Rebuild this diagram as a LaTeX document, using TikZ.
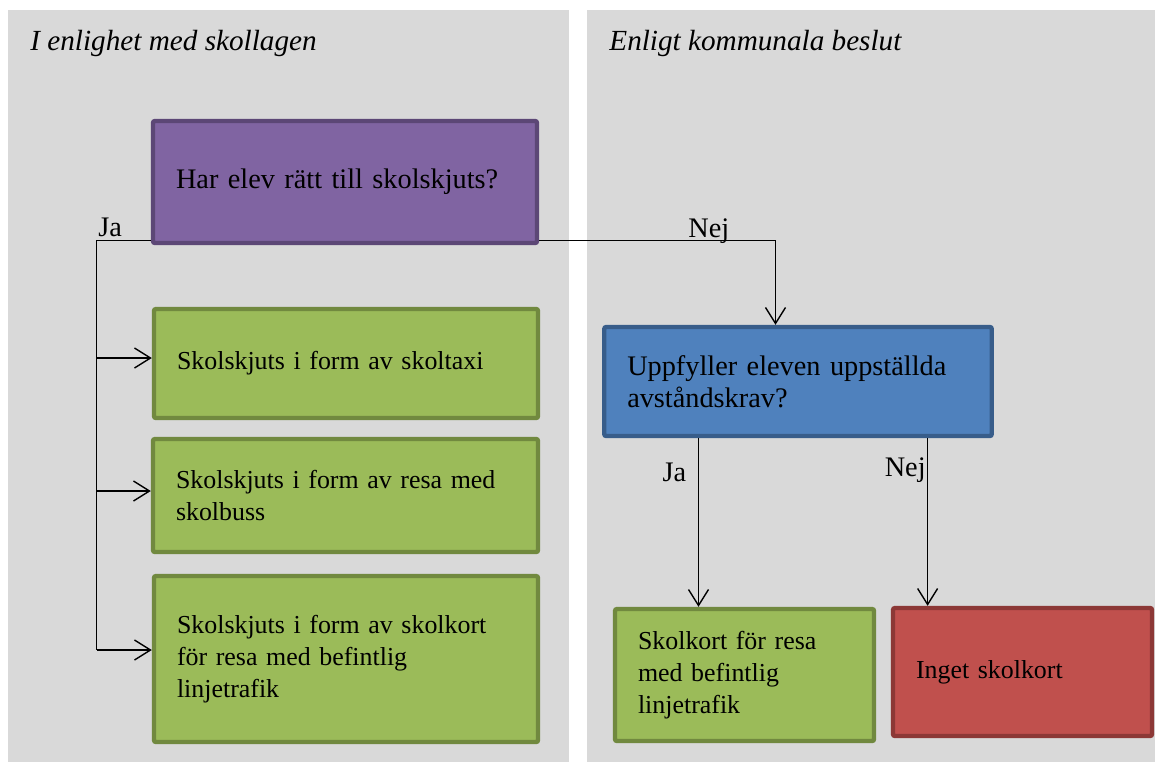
\documentclass[tikz,border=0pt]{standalone}
\usepackage{fontspec}
\setmainfont{Liberation Serif}
\usetikzlibrary{arrows.meta}

\definecolor{panel}{HTML}{D9D9D9}
\definecolor{lila}{HTML}{8064A2}
\definecolor{lilakant}{HTML}{5C4776}
\definecolor{bla}{HTML}{4F81BD}
\definecolor{blakant}{HTML}{385D8A}
\definecolor{gron}{HTML}{9BBB59}
\definecolor{gronkant}{HTML}{71893F}
\definecolor{rod}{HTML}{C0504D}
\definecolor{rodkant}{HTML}{8C3836}

\begin{document}
\begin{tikzpicture}[x=0.5pt,y=-0.5pt,
  ruta/.style={line width=2.2pt, rounded corners=1pt, align=left,
    inner xsep=11.5pt, inner ysep=0pt},
  stor/.style={font=\fontsize{14.15pt}{16pt}\selectfont},
  liten/.style={font=\fontsize{12.95pt}{16pt}\selectfont},
  lbl/.style={stor, inner sep=0pt},
  linje/.style={line width=0.7pt},
  pil/.style={linje, -{Straight Barb[length=8pt,width=10pt]}}]
\useasboundingbox (0,0) rectangle (1155,762);
\fill[panel] (7.5,10) rectangle (569,762);
\fill[panel] (586.5,10) rectangle (1155,762);

\node[lbl, anchor=base west, font=\fontsize{14.6pt}{16pt}\selectfont\itshape]
  (rubrik1) at (30,50) {I enlighet med skollagen};
\node[lbl, anchor=base west, font=\fontsize{14.6pt}{16pt}\selectfont\itshape]
  (rubrik2) at (609,50) {Enligt kommunala beslut};

% vänster sida
\node[ruta, stor, draw=lilakant, fill=lila, minimum width=192pt,
  minimum height=61pt, text width=169pt] (fraga) at (345,182)
  {Har elev rätt till skolskjuts?};
\node[ruta, liten, draw=gronkant, fill=gron, minimum width=192pt,
  minimum height=54.5pt, text width=169pt] (taxi) at (346,363.5)
  {Skolskjuts i form av skoltaxi};
\node[ruta, liten, draw=gronkant, fill=gron, minimum width=192.5pt,
  minimum height=56.5pt, text width=169.5pt] (buss) at (345.5,495.5)
  {Skolskjuts i form av resa med\\skolbuss};
\node[ruta, liten, draw=gronkant, fill=gron, minimum width=192pt,
  minimum height=83pt, text width=169pt] (kort) at (346,659)
  {Skolskjuts i form av skolkort\\för resa med befintlig\\linjetrafik};

% höger sida
\node[ruta, stor, draw=blakant, fill=bla, minimum width=193.75pt,
  minimum height=54.5pt, text width=170.75pt] (avstand) at (798,381.5)
  {Uppfyller eleven uppställda\\avståndskrav?};
\node[ruta, liten, draw=gronkant, fill=gron, minimum width=129.5pt,
  minimum height=66pt, text width=106.5pt] (jakort) at (744.5,675)
  {Skolkort för resa\\med befintlig\\linjetrafik};
\node[ruta, liten, draw=rodkant, fill=rod, minimum width=129.5pt,
  minimum height=64pt, text width=106.5pt] (inget) at (1022.5,672)
  {Inget skolkort};

% pilar
\coordinate (jaknee) at (96.5,240.7);
\coordinate (nejknee) at (775.5,240.7);
\coordinate (jax) at (698.5,500);
\coordinate (nejx) at (927.6,500);

\foreach \n/\d in {taxi/2.75pt,buss/2.25pt,kort/4.5pt} {
  \coordinate (\n-in) at ([yshift=\d]\n.west);
  \draw[pil] (jaknee |- \n-in) -- (\n-in);
}
\draw[linje] ([yshift=2.25pt]fraga.south west) -- (jaknee) -- (jaknee |- kort-in);
\draw[pil] ([yshift=2.25pt]fraga.south east) -- (nejknee) -- (nejknee |- avstand.north);
\draw[pil] (jax |- avstand.south) -- (jax |- jakort.north);
\draw[pil] (nejx |- avstand.south) -- (nejx |- inget.north);

\node[lbl, anchor=base west] (ja1) at (98,236) {Ja};
\node[lbl, anchor=base west] (nej1) at (688,237) {Nej};
\node[lbl, anchor=base east] (ja2) at (686.5,481.5) {Ja};
\node[lbl, anchor=base east] (nej2) at (926,476.5) {Nej};
\end{tikzpicture}
\end{document}
